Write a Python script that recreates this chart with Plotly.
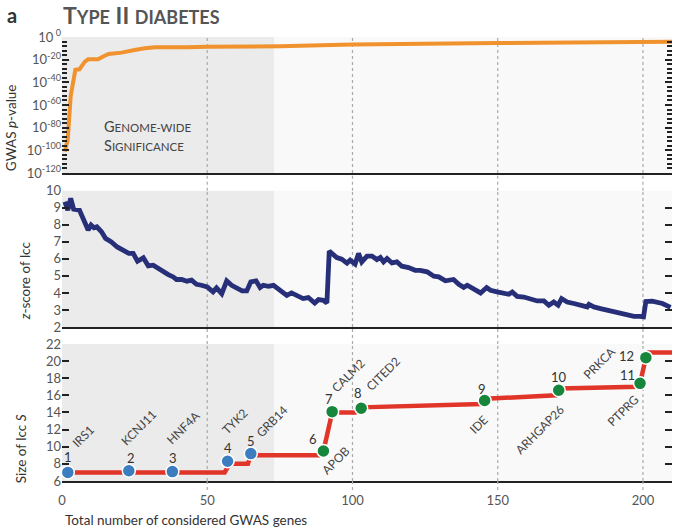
import plotly.graph_objects as go

# ---------------- data ----------------
# Panel 1: GWAS p-value, given as log10 exponent, vs number of considered genes
p_rank = [1, 2, 3, 3.4, 4.6, 6, 7.8, 9, 12.4, 14, 16, 20.5, 23, 25, 28.5, 32, 43, 50, 75, 100, 150, 210]
p_log10 = [-101, -90, -52, -45, -29, -28.5, -22, -19.7, -19.7, -17.4, -15, -13.8, -12.9, -11.5,
           -10, -9.1, -9.1, -8.5, -8.2, -6.6, -5.4, -4.2]

# Panel 2: z-score of lcc
z_rank = [1, 2, 3, 4, 6, 7, 9, 10, 11, 12, 13.6, 15, 17, 19, 20, 21.6, 23, 24.5, 26, 28, 29.7, 31.4,
          33, 35, 36.6, 38.3, 39.4, 41.2, 43, 44.6, 46.3, 48, 50, 52, 53.2, 55, 56.7, 58.4, 60, 62,
          63.6, 65, 66.8, 68.2, 69.3, 71, 72.8, 75, 77.4, 79, 81.4, 83, 84.8, 87, 88.3, 90, 91.2, 92,
          94.6, 96.3, 98.1, 99.2, 100.9, 102.1, 103.2, 105, 106.7, 108.4, 109.6, 110.7, 111.9, 113.6,
          115.3, 117, 119.3, 121.6, 123.3, 125.7, 128, 129.7, 132, 134.8, 136.6, 138.3, 139.5, 141.7,
          144.1, 146.2, 147.5, 149.8, 152, 153.8, 155, 156.7, 159, 161.3, 163.6, 165.9, 167.6, 169.3,
          170.8, 172, 173.9, 176.2, 178.5, 180.8, 181.4, 183.1, 185.4, 187.7, 190, 192.3, 194.6,
          196.9, 199, 200.2, 201, 203.2, 206.7, 209.5]
z_score = [9.35, 8.86, 9.55, 8.92, 8.86, 8.47, 7.69, 7.98, 7.82, 7.88, 7.59, 7.2, 7.0, 6.7, 6.61,
           6.45, 6.32, 6.32, 5.86, 6.06, 5.59, 5.63, 5.44, 5.28, 5.08, 4.94, 4.79, 4.79, 4.69, 4.75,
           4.51, 4.45, 4.35, 4.06, 4.3, 3.96, 4.71, 4.45, 4.31, 4.12, 4.12, 4.65, 4.71, 4.32, 4.45,
           4.39, 4.45, 4.2, 3.86, 4.0, 3.76, 3.67, 3.73, 3.41, 3.61, 3.57, 3.41, 6.45, 6.08, 5.98,
           5.75, 5.92, 5.7, 6.32, 5.82, 6.16, 6.16, 5.96, 6.08, 5.82, 6.02, 5.76, 5.82, 5.57, 5.49,
           5.33, 5.33, 5.24, 4.98, 4.94, 4.71, 4.79, 4.51, 4.32, 4.45, 4.26, 4.0, 4.32, 4.16, 4.06,
           4.0, 3.92, 4.06, 3.8, 3.76, 3.67, 3.53, 3.53, 3.28, 3.47, 3.28, 3.67, 3.47, 3.38, 3.28,
           3.18, 3.33, 3.18, 3.08, 2.98, 2.92, 2.82, 2.69, 2.63, 2.63, 2.6, 3.5, 3.52, 3.38, 3.15]

# Panel 3: size of lcc S
lcc_rank = [2, 56, 57, 58.5, 64, 65, 88.5, 90, 93, 101, 103, 144.5, 146, 170, 171.5, 198, 199, 201, 202, 210]
lcc_size = [7, 7, 7.6, 8, 8, 9, 9, 9.5, 14, 14, 14.6, 15, 15.6, 16, 16.8, 17, 17.4, 20.4, 21, 21]

gene_names = ["IRS1", "KCNJ11", "HNF4A", "TYK2", "GRB14", "APOB", "CALM2", "CITED2",
              "IDE", "ARHGAP26", "PTPRG", "PRKCA"]
gene_rank = [2, 23, 38, 57, 65, 90, 93, 103, 145.5, 171, 199, 201]
gene_size = [7.0, 7.2, 7.1, 8.3, 9.2, 9.5, 14.1, 14.5, 15.4, 16.6, 17.4, 20.4]

x_ticks = [0, 50, 100, 150, 200]
p_tick_exp = [0, -20, -40, -60, -80, -100, -120]
z_ticks = [2, 3, 4, 5, 6, 7, 8, 9, 10]
s_ticks = [6, 8, 10, 12, 14, 16, 18, 20, 22]
shade_end = 73

# ---------------- styling ----------------
FONT = "Lato"
GREY = "#555555"
ORANGE = "#f0922e"
NAVY = "#262f78"
RED = "#e2352a"
BLUE = "#3b7dbf"
GREEN = "#17863d"

dom_top = [0.6937, 1.0]
dom_mid = [0.3468, 0.6538]
dom_bot = [0.0, 0.3086]

fig = go.Figure()

fig.add_trace(go.Scatter(x=p_rank, y=p_log10, mode="lines",
                         line=dict(color=ORANGE, width=4), xaxis="x", yaxis="y",
                         hoverinfo="skip", showlegend=False))
fig.add_trace(go.Scatter(x=z_rank, y=z_score, mode="lines",
                         line=dict(color=NAVY, width=4.8), xaxis="x2", yaxis="y2",
                         hoverinfo="skip", showlegend=False))
fig.add_trace(go.Scatter(x=lcc_rank, y=lcc_size, mode="lines",
                         line=dict(color=RED, width=4.5), xaxis="x3", yaxis="y3",
                         hoverinfo="skip", showlegend=False))
fig.add_trace(go.Scatter(x=gene_rank, y=gene_size, mode="markers",
                         marker=dict(size=13, color=[BLUE if i < 5 else GREEN for i in range(len(gene_rank))],
                                     line=dict(color="white", width=1.5)),
                         xaxis="x3", yaxis="y3", hoverinfo="skip", showlegend=False))

xcommon = dict(range=[0, 210], showgrid=False, zeroline=False, showline=True,
               linecolor="#222222", linewidth=2, ticks="")
ycommon = dict(showgrid=False, zeroline=False, showline=False, ticks="inside",
               mirror="ticks", tickcolor="#222222", tickwidth=2,
               tickfont=dict(family=FONT, size=13, color=GREY))

fig.update_layout(
    width=683, height=532,
    margin=dict(l=62, r=11, t=37, b=51),
    paper_bgcolor="white", plot_bgcolor="#f9f9f9",
    font=dict(family=FONT, color=GREY),
    xaxis=dict(domain=[0, 1], anchor="y", showticklabels=False, **xcommon),
    xaxis2=dict(domain=[0, 1], anchor="y2", showticklabels=False, **xcommon),
    xaxis3=dict(domain=[0, 1], anchor="y3", showticklabels=True, tickvals=x_ticks,
                ticklabelstandoff=6, tickfont=dict(family=FONT, size=13, color=GREY), **xcommon),
    yaxis=dict(domain=dom_top, anchor="x", range=[-120, 0], tickvals=p_tick_exp,
               ticktext=["10<sup> %d</sup>" % e if e == 0 else "10<sup>%d</sup>" % e for e in p_tick_exp],
               ticklen=7,
               minor=dict(dtick=4, tick0=0, ticks="inside", ticklen=5, tickwidth=1.5, tickcolor="#222222"),
               **ycommon),
    yaxis2=dict(domain=dom_mid, anchor="x2", range=[2, 10], tickvals=z_ticks, ticklen=7, **ycommon),
    yaxis3=dict(domain=dom_bot, anchor="x3", range=[6, 22], tickvals=s_ticks, ticklen=7, **ycommon),
)

# background shading + dotted vertical lines in each panel
panels = [("x", "y", -120, 0), ("x2", "y2", 2, 10), ("x3", "y3", 6, 22)]
shapes = []
for xr, yr, y0, y1 in panels:
    shapes.append(dict(type="rect", xref=xr, yref=yr, x0=0, x1=shade_end, y0=y0, y1=y1,
                       fillcolor="#ebebeb", line=dict(width=0), layer="below"))
    for xv in x_ticks[1:]:
        shapes.append(dict(type="line", xref=xr, yref=yr, x0=xv, x1=xv, y0=y0, y1=y1,
                           line=dict(color="#aaaaaa", width=1.2, dash="dot"), layer="below"))
# dotted lines continuing through the gaps between panels
gaps = [(dom_mid[1], dom_top[0]), (dom_bot[1], dom_mid[0]), (-0.02, 0.0)]
for g0, g1 in gaps:
    for xv in x_ticks[1:]:
        shapes.append(dict(type="line", xref="x3", yref="paper", x0=xv, x1=xv, y0=g0, y1=g1,
                           line=dict(color="#aaaaaa", width=1.2, dash="dot"), layer="above"))
fig.update_layout(shapes=shapes)

ann = []
# panel letter & title
ann.append(dict(text="<b>a</b>", xref="paper", yref="paper", x=-0.082, y=1.05,
                xanchor="center", yanchor="middle", showarrow=False,
                font=dict(family=FONT, size=20, color="#333333")))
ann.append(dict(text="<b>T<span style='font-size:18px'>YPE</span> II <span style='font-size:18px'>DIABETES</span></b>",
                xref="paper", yref="paper", x=-0.002, y=1.05, xanchor="left", yanchor="middle",
                showarrow=False, font=dict(family=FONT, size=23, color="#555555")))
# genome-wide significance label
ann.append(dict(text="G<span style='font-size:11.5px'>ENOME-WIDE</span><br>S<span style='font-size:11.5px'>IGNIFICANCE</span>",
                xref="x", yref="paper", x=13.6, y=0.777, xanchor="left", yanchor="middle",
                align="left", showarrow=False, font=dict(family=FONT, size=14.5, color="#444444")))
# axis titles
ann.append(dict(text="GWAS <i>p</i>-value", xref="paper", yref="paper", x=-0.0825, y=dom_top[0],
                xanchor="center", yanchor="bottom", textangle=-90, showarrow=False,
                font=dict(family=FONT, size=13.5, color="#333333")))
ann.append(dict(text="<i>z</i>-score of lcc", xref="paper", yref="paper", x=-0.061, y=0.358,
                xanchor="center", yanchor="bottom", textangle=-90, showarrow=False,
                font=dict(family=FONT, size=13.5, color="#333333")))
ann.append(dict(text="Size of lcc <i>S</i>", xref="paper", yref="paper", x=-0.066, y=-0.009,
                xanchor="center", yanchor="bottom", textangle=-90, showarrow=False,
                font=dict(family=FONT, size=13.5, color="#333333")))
ann.append(dict(text="Total number of considered GWAS genes", xref="paper", yref="paper",
                x=0.001, y=-0.088, xanchor="left", yanchor="middle", showarrow=False,
                font=dict(family=FONT, size=13.5, color="#333333")))

# marker number labels (pixel offsets)
num_off = [(0, 15), (2, 13), (1, 14), (0, 13), (0, 13), (-10, 12), (-3, 13), (-3, 15),
           (-3, 12), (0, 13), (-13, 8), (-19, 2)]
# gene name offsets
name_off = [(15, 36), (10, 43), (11, 44), (7, 40), (21, 32), (12, -9), (16, 36), (22, 35),
            (-6, -24), (-19, -39), (-17, -27), (-46, -5)]
for i, (gx, gs) in enumerate(zip(gene_rank, gene_size)):
    dx, dy = num_off[i]
    ann.append(dict(text=str(i + 1), xref="x3", yref="y3", x=gx, y=gs, xshift=dx, yshift=dy,
                    xanchor="center", yanchor="middle", showarrow=False,
                    font=dict(family=FONT, size=13, color="#333333")))
    dx, dy = name_off[i]
    ann.append(dict(text=gene_names[i], xref="x3", yref="y3", x=gx, y=gs, xshift=dx, yshift=dy,
                    xanchor="center", yanchor="middle", textangle=-45, showarrow=False,
                    font=dict(family=FONT, size=12, color="#444444")))
fig.update_layout(annotations=ann)

fig.write_html("out.html", config={"displayModeBar": False},
               post_script="document.body.style.margin='0';")
